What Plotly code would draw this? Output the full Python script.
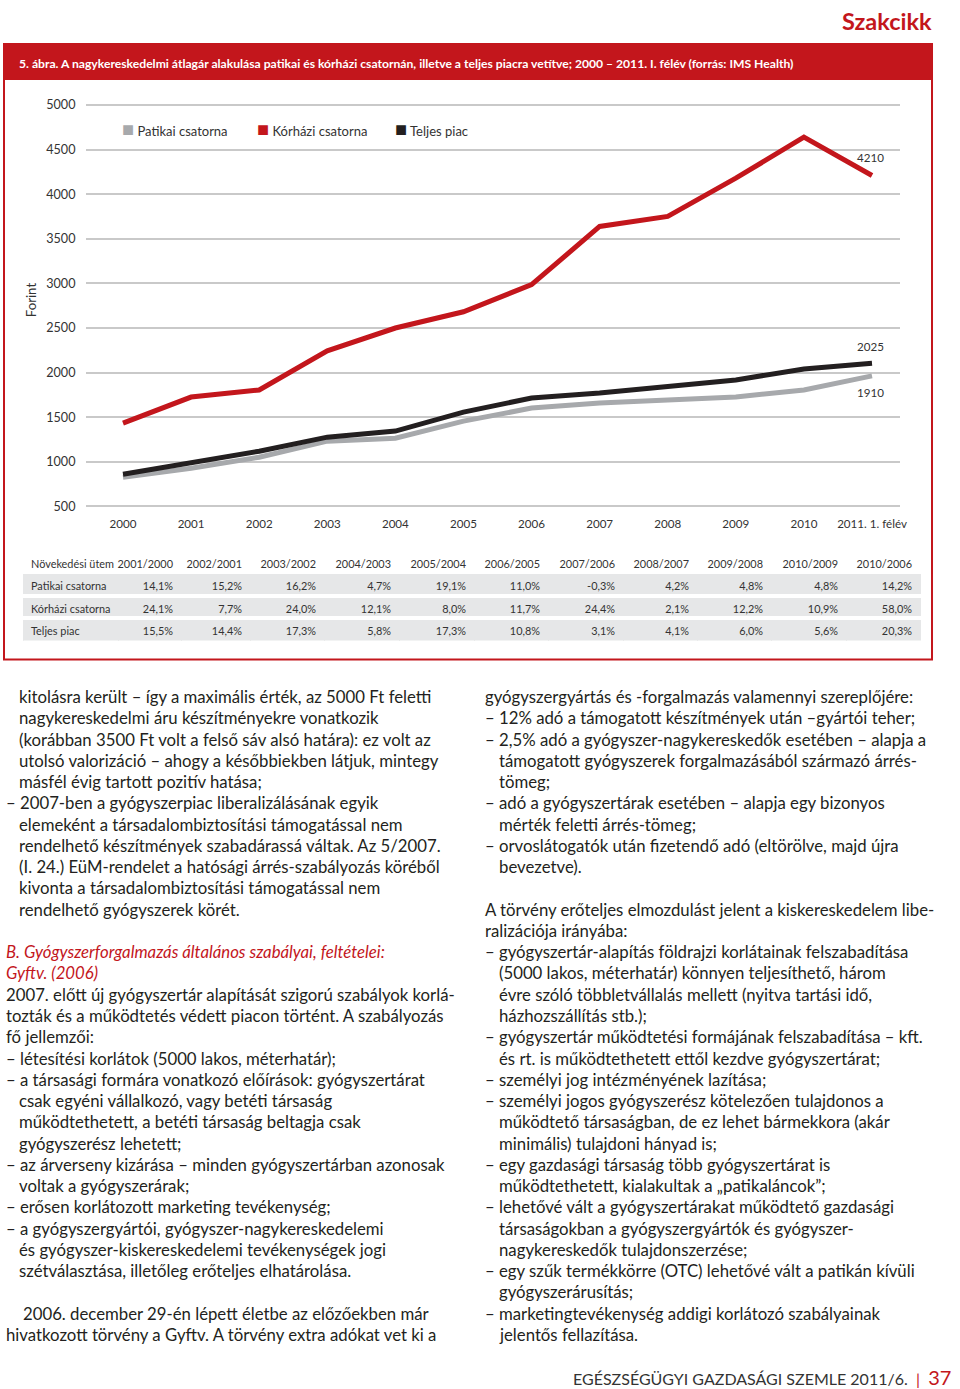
import plotly.graph_objects as go

W, H = 960, 1389

# ---------------- data ----------------
years = ["2000", "2001", "2002", "2003", "2004", "2005", "2006", "2007",
         "2008", "2009", "2010", "2011. 1. félév"]
patikai = [826, 928, 1051, 1231, 1265, 1456, 1602, 1659, 1693, 1727, 1805, 1963]
korhazi = [1434, 1726, 1805, 2244, 2500, 2682, 2986, 3639, 3751, 4180, 4640, 4210]
teljes = [860, 984, 1119, 1276, 1344, 1557, 1715, 1771, 1839, 1918, 2041, 2106]
end_label_patikai = "1910"
end_label_korhazi = "4210"
end_label_teljes = "2025"
y_ticks = [500, 1000, 1500, 2000, 2500, 3000, 3500, 4000, 4500, 5000]

growth_periods = ["2001/2000", "2002/2001", "2003/2002", "2004/2003", "2005/2004",
                  "2006/2005", "2007/2006", "2008/2007", "2009/2008", "2010/2009", "2010/2006"]
patikai_growth = ["14,1%", "15,2%", "16,2%", "4,7%", "19,1%", "11,0%", "-0,3%", "4,2%", "4,8%", "4,8%", "14,2%"]
korhazi_growth = ["24,1%", "7,7%", "24,0%", "12,1%", "8,0%", "11,7%", "24,4%", "2,1%", "12,2%", "10,9%", "58,0%"]
teljes_growth = ["15,5%", "14,4%", "17,3%", "5,8%", "17,3%", "10,8%", "3,1%", "4,1%", "6,0%", "5,6%", "20,3%"]
row_names = ["Patikai csatorna", "Kórházi csatorna", "Teljes piac"]
table_corner = "Növekedési ütem"

left_lines = [
    ("  kitolásra került – így a maximális érték, az 5000 Ft feletti", "n"),
    ("  nagykereskedelmi áru készítményekre vonatkozik", "n"),
    ("  (korábban 3500 Ft volt a felső sáv alsó határa): ez volt az", "n"),
    ("  utolsó valorizáció – ahogy a későbbiekben látjuk, mintegy", "n"),
    ("  másfél évig tartott pozitív hatása;", "n"),
    ("– 2007-ben a gyógyszerpiac liberalizálásának egyik", "n"),
    ("  elemeként a társadalombiztosítási támogatással nem", "n"),
    ("  rendelhető készítmények szabadárassá váltak. Az 5/2007.", "n"),
    ("  (I. 24.) EüM-rendelet a hatósági árrés-szabályozás köréből", "n"),
    ("  kivonta a társadalombiztosítási támogatással nem", "n"),
    ("  rendelhető gyógyszerek körét.", "n"),
    ("", "n"),
    ("B. Gyógyszerforgalmazás általános szabályai, feltételei:", "h"),
    ("Gyftv. (2006)", "h"),
    ("2007. előtt új gyógyszertár alapítását szigorú szabályok korlá-", "n"),
    ("tozták és a működtetés védett piacon történt. A szabályozás", "n"),
    ("fő jellemzői:", "n"),
    ("– létesítési korlátok (5000 lakos, méterhatár);", "n"),
    ("– a társasági formára vonatkozó előírások: gyógyszertárat", "n"),
    ("  csak egyéni vállalkozó, vagy betéti társaság", "n"),
    ("  működtethetett, a betéti társaság beltagja csak", "n"),
    ("  gyógyszerész lehetett;", "n"),
    ("– az árverseny kizárása – minden gyógyszertárban azonosak", "n"),
    ("  voltak a gyógyszerárak;", "n"),
    ("– erősen korlátozott marketing tevékenység;", "n"),
    ("– a gyógyszergyártói, gyógyszer-nagykereskedelemi", "n"),
    ("  és gyógyszer-kiskereskedelemi tevékenységek jogi", "n"),
    ("  szétválasztása, illetőleg erőteljes elhatárolása.", "n"),
    ("", "n"),
    ("   2006. december 29-én lépett életbe az előzőekben már", "n"),
    ("hivatkozott törvény a Gyftv. A törvény extra adókat vet ki a", "n"),
]

right_lines = [
    "gyógyszergyártás és -forgalmazás valamennyi szereplőjére:",
    "– 12% adó a támogatott készítmények után –gyártói teher;",
    "– 2,5% adó a gyógyszer-nagykereskedők esetében – alapja a",
    "  támogatott gyógyszerek forgalmazásából származó árrés-",
    "  tömeg;",
    "– adó a gyógyszertárak esetében – alapja egy bizonyos",
    "  mérték feletti árrés-tömeg;",
    "– orvoslátogatók után fizetendő adó (eltörölve, majd újra",
    "  bevezetve).",
    "",
    "A törvény erőteljes elmozdulást jelent a kiskereskedelem libe-",
    "ralizációja irányába:",
    "– gyógyszertár-alapítás földrajzi korlátainak felszabadítása",
    "  (5000 lakos, méterhatár) könnyen teljesíthető, három",
    "  évre szóló többletvállalás mellett (nyitva tartási idő,",
    "  házhozszállítás stb.);",
    "– gyógyszertár működtetési formájának felszabadítása – kft.",
    "  és rt. is működtethetett ettől kezdve gyógyszertárat;",
    "– személyi jog intézményének lazítása;",
    "– személyi jogos gyógyszerész kötelezően tulajdonos a",
    "  működtető társaságban, de ez lehet bármekkora (akár",
    "  minimális) tulajdoni hányad is;",
    "– egy gazdasági társaság több gyógyszertárat is",
    "  működtethetett, kialakultak a „patikaláncok”;",
    "– lehetővé vált a gyógyszertárakat működtető gazdasági",
    "  társaságokban a gyógyszergyártók és gyógyszer-",
    "  nagykereskedők tulajdonszerzése;",
    "– egy szűk termékkörre (OTC) lehetővé vált a patikán kívüli",
    "  gyógyszerárusítás;",
    "– marketingtevékenység addigi korlátozó szabályainak",
    "  jelentős fellazítása.",
]

# ---------------- styles ----------------
RED = "#c3161c"
DARK = "#231f20"
GREY = "#a7a9ac"
TXT = "#333333"
COND = "Lato, Roboto, sans-serif"
BODY = "Lato, Noto Sans, sans-serif"

# page-pixel -> figure-pixel compensation (measured on the rendered page)
SX, SY, OY = 0.9927, 0.9906, 7.0


def fx(x):
    return min(x / SX, W - 1)


def fy(y):
    return 1 + (y - OY) / SY


def px(x):
    return fx(x) / W


def py(y):
    return 1 - fy(y) / H


def nb(s):
    return s.replace(" ", "\u00a0")


fig = go.Figure()

xs = list(range(len(years)))
fig.add_trace(go.Scatter(x=xs, y=patikai, mode="lines", name="Patikai csatorna",
                         line=dict(color=GREY, width=5), showlegend=False))
fig.add_trace(go.Scatter(x=xs, y=teljes, mode="lines", name="Teljes piac",
                         line=dict(color=DARK, width=5), showlegend=False))
fig.add_trace(go.Scatter(x=xs, y=korhazi, mode="lines", name="Kórházi csatorna",
                         line=dict(color=RED, width=5), showlegend=False))

# growth table
TAB_TOP, HDR_H, ROW_H = 551, 22, 22.5
TAB_BOT = TAB_TOP + HDR_H + ROW_H * len(row_names)
header_vals = [nb(table_corner)] + growth_periods
cell_vals = [[nb(r) for r in row_names]] + [[p, k, t] for p, k, t in zip(patikai_growth, korhazi_growth, teljes_growth)]
fig.add_trace(go.Table(
    domain=dict(x=[px(23), px(920)], y=[py(TAB_BOT), py(TAB_TOP)]),
    columnwidth=[95, 63, 69, 74, 75, 75, 74, 75, 74, 74, 75, 74],
    header=dict(values=header_vals, height=HDR_H / SY,
                align=["left"] + ["right"] * len(growth_periods),
                fill_color="white", line=dict(color="white", width=1),
                font=dict(family=COND, size=10.9, color=TXT)),
    cells=dict(values=cell_vals, height=ROW_H / SY,
               align=["left"] + ["right"] * len(growth_periods),
               fill_color="#e6e7e8", line=dict(color="#e6e7e8", width=1),
               font=dict(family=COND, size=10.9, color=TXT)),
))

# axes: 500 -> y=506px, 5000 -> y=105px ; index 0 -> 123px, 11 -> 872px (page pixels)
ppu = (506 - 105) / 4500.0
y_lo, y_hi = 480, 5020
dom_bot = 506 + (500 - y_lo) * ppu
dom_top = 105 - (y_hi - 5000) * ppu
xppu = (872 - 123) / 11.0
x_lo = 0 - (123 - 86) / xppu
x_hi = 11 + (900 - 872) / xppu

fig.update_layout(
    width=W, height=H, autosize=False,
    margin=dict(l=0, r=0, t=0, b=0),
    paper_bgcolor="white", plot_bgcolor="white",
    showlegend=False,
    xaxis=dict(domain=[px(86), px(900)], range=[x_lo, x_hi],
               tickmode="array", tickvals=xs, ticktext=years,
               showgrid=False, zeroline=False, showline=False,
               ticks="outside", ticklen=5, tickcolor="rgba(0,0,0,0)",
               tickfont=dict(family=COND, size=11.6, color=TXT)),
    yaxis=dict(domain=[py(dom_bot), py(dom_top)], range=[y_lo, y_hi],
               tickmode="array", tickvals=y_ticks,
               showgrid=True, gridcolor="#c9c9c9", gridwidth=1.5,
               zeroline=False, showline=False,
               ticks="outside", ticklen=7, tickcolor="rgba(0,0,0,0)",
               tickfont=dict(family=COND, size=12.6, color=TXT)),
)

shapes = []
# outer red frame & header bar
shapes.append(dict(type="rect", xref="paper", yref="paper",
                   x0=px(4), x1=px(932), y0=py(659), y1=py(44),
                   line=dict(color=RED, width=2), fillcolor="rgba(0,0,0,0)", layer="below"))
shapes.append(dict(type="rect", xref="paper", yref="paper",
                   x0=px(4), x1=px(932), y0=py(80), y1=py(44),
                   line=dict(color=RED, width=0), fillcolor=RED, layer="below"))
fig.update_layout(shapes=shapes)

ann = []
# white row separators of the table (annotations sit above the table layer)
for k in range(1, len(row_names)):
    ysep = TAB_TOP + HDR_H + k * ROW_H
    ann.append(dict(text=" ", x=px(23), y=py(ysep), xref="paper", yref="paper",
                    xanchor="left", yanchor="middle", showarrow=False,
                    width=fx(920) - fx(23), height=4, bgcolor="white", borderpad=0, borderwidth=0,
                    font=dict(size=1)))
# page header (kept fully inside the figure's top edge)
ann.append(dict(text="<b>Szakcikk</b>", x=px(933), y=1.0, xref="paper", yref="paper",
                xanchor="right", yanchor="top", showarrow=False, borderpad=0,
                font=dict(family=COND, size=23.5, color=RED)))
ann.append(dict(text="<b>5. ábra. A nagykereskedelmi átlagár alakulása patikai és kórházi csatornán, illetve a teljes piacra vetítve; 2000 – 2011. I. félév (forrás: IMS Health)</b>",
                x=px(17), y=py(63), xref="paper", yref="paper",
                xanchor="left", yanchor="middle", showarrow=False,
                font=dict(family=COND, size=12.15, color="white")))
# legend
legend_items = [("Patikai csatorna", GREY, 120), ("Kórházi csatorna", RED, 255), ("Teljes piac", DARK, 393)]
for name, col, x0 in legend_items:
    ann.append(dict(text=f"<span style='color:{col};font-size:20px'>■</span> {name}", x=px(x0), y=py(128),
                    xref="paper", yref="paper", xanchor="left", yanchor="middle", showarrow=False,
                    font=dict(family=COND, size=13, color=TXT)))
# y-axis title
ann.append(dict(text="Forint", x=px(31), y=py(300), xref="paper", yref="paper",
                xanchor="center", yanchor="middle", textangle=-90, showarrow=False,
                font=dict(family=COND, size=13.2, color=TXT)))
# end labels
for val, lab, sh in [(korhazi[-1], end_label_korhazi, 18), (teljes[-1], end_label_teljes, 17),
                     (patikai[-1], end_label_patikai, -17)]:
    ann.append(dict(text=lab, x=xs[-1], y=val, xref="x", yref="y", xshift=-2, yshift=sh,
                    xanchor="center", yanchor="middle", showarrow=False,
                    font=dict(family=COND, size=11.6, color=TXT)))

# body text
LS = 21.25
y0 = 696
BSZ = 16.75
for i, (line, kind) in enumerate(left_lines):
    if not line:
        continue
    stripped = line.lstrip(" ")
    indent = len(line) - len(stripped)
    x = 4 if indent == 0 else (17 if indent == 2 else 21)
    if kind == "h":
        txt = f"<i>{stripped}</i>"
        col = RED
    else:
        txt = stripped
        col = DARK
    ann.append(dict(text=txt, x=px(x), y=py(y0 + i * LS), xref="paper", yref="paper",
                    xanchor="left", yanchor="middle", showarrow=False,
                    font=dict(family=BODY, size=BSZ, color=col)))
for i, line in enumerate(right_lines):
    if not line:
        continue
    stripped = line.lstrip(" ")
    x = 483 if not line.startswith("  ") else 497
    ann.append(dict(text=stripped, x=px(x), y=py(y0 + i * LS), xref="paper", yref="paper",
                    xanchor="left", yanchor="middle", showarrow=False,
                    font=dict(family=BODY, size=BSZ, color=DARK)))

# footer
ann.append(dict(text=f"EGÉSZSÉGÜGYI GAZDASÁGI SZEMLE 2011/6.  <span style='color:{RED}'>|</span>  <span style='color:{RED};font-size:20px'>37</span>",
                x=1.0, y=py(1376), xref="paper", yref="paper",
                xanchor="right", yanchor="middle", showarrow=False,
                font=dict(family=BODY, size=16, color="#333333")))

fig.update_layout(annotations=ann)
fig.write_html("out.html", config={"displayModeBar": False},
               post_script="document.body.style.margin='0';document.body.style.overflow='hidden';")
